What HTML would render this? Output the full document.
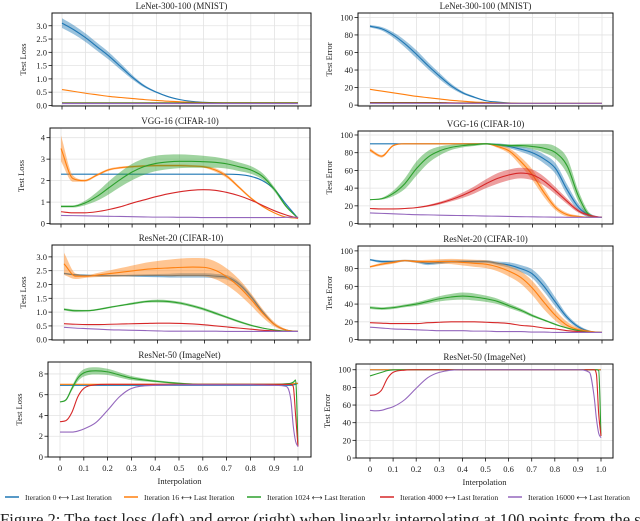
<!DOCTYPE html>
<html><head><meta charset="utf-8"><style>
body{margin:0;background:#fff;width:640px;height:521px;overflow:hidden;font-family:"Liberation Serif",serif}
svg{display:block}
text{font-family:"Liberation Serif",serif;fill:#222}
</style></head><body>
<svg id="fig" width="640" height="521" viewBox="0 0 640 521" xmlns="http://www.w3.org/2000/svg"></svg>
<script>
const G=[0,0.05,0.1,0.15,0.2,0.25,0.3,0.35,0.4,0.45,0.5,0.55,0.6,0.65,0.7,0.75,0.8,0.85,0.9,0.95,1.0];
const B=[0,0.025,0.05,0.075,0.1,0.15,0.2,0.25,0.3,0.4,0.5,0.6,0.7,0.8,0.9,0.95,0.97,0.98,0.99,1.0];
const xTickLabels=["0","0.1","0.2","0.3","0.4","0.5","0.6","0.7","0.8","0.9","1.0"];
const seriesNames=["Iteration 0 ⟷ Last Iteration","Iteration 16 ⟷ Last Iteration","Iteration 1024 ⟷ Last Iteration","Iteration 4000 ⟷ Last Iteration","Iteration 16000 ⟷ Last Iteration"];
// LeNet loss
const l1Blue=[3.1,2.85,2.55,2.2,1.85,1.45,1.05,0.72,0.5,0.33,0.22,0.15,0.12,0.1,0.09,0.08,0.08,0.08,0.08,0.08,0.08];
const l1BlueBand=[0.18,0.17,0.16,0.15,0.14,0.12,0.08,0.05,0.03,0.02,0.01,0,0,0,0,0,0,0,0,0,0];
const l1Orange=[0.6,0.53,0.46,0.4,0.34,0.3,0.26,0.22,0.19,0.16,0.14,0.12,0.11,0.1,0.1,0.1,0.1,0.1,0.1,0.1,0.1];
const l1Green=[0.1,0.1,0.1,0.1,0.1,0.1,0.1,0.1,0.1,0.1,0.1,0.1,0.1,0.1,0.1,0.1,0.1,0.1,0.1,0.1,0.1];
const l1Red=[0.08,0.08,0.08,0.08,0.08,0.08,0.08,0.08,0.08,0.08,0.08,0.08,0.08,0.08,0.08,0.08,0.08,0.08,0.08,0.08,0.08];
const l1Purple=[0.07,0.07,0.07,0.07,0.07,0.07,0.07,0.07,0.07,0.07,0.07,0.07,0.07,0.07,0.07,0.07,0.07,0.07,0.07,0.07,0.07];
// LeNet error
const r1Blue=[90,87,80,70,58,45,33,22,14,9,5,3.5,2.5,2,2,2,2,2,2,2,2];
const r1BlueBand=[1.5,2,3,4,4.5,4,3.5,2.5,1.5,1,0.5,0,0,0,0,0,0,0,0,0,0];
const r1Orange=[18,16,14,12,10,8.5,7,5.5,4.5,3.5,3,2.5,2.2,2,2,2,2,2,2,2,2];
const r1Green=[3,3,3,3,3,3,3,2.5,2.5,2.5,2.5,2,2,2,2,2,2,2,2,2,2];
const r1Red=[2.5,2.5,2.5,2.5,2.5,2.5,2.5,2.5,2.2,2.2,2.2,2,2,2,2,2,2,2,2,2,2];
const r1Purple=[2,2,2,2,2,2,2,2,2,2,2,2,2,2,2,2,2,2,2,2,2];
// VGG loss
const l2Blue=[2.3,2.3,2.3,2.3,2.3,2.3,2.3,2.3,2.3,2.3,2.3,2.3,2.3,2.3,2.3,2.28,2.2,2.0,1.6,0.9,0.25];
const l2Orange=[3.5,2.1,2.0,2.25,2.5,2.6,2.65,2.68,2.7,2.7,2.7,2.68,2.65,2.5,2.2,1.7,1.2,0.8,0.5,0.3,0.25];
const l2OrangeBand=[0.6,0.15,0.05,0.05,0.05,0.05,0.05,0.05,0.05,0.05,0.05,0.05,0.05,0.08,0.08,0.06,0.05,0.03,0.02,0.02,0];
const l2Green=[0.8,0.8,0.95,1.25,1.65,2.05,2.4,2.65,2.8,2.87,2.9,2.9,2.88,2.85,2.78,2.65,2.5,2.2,1.6,0.8,0.25];
const l2GreenBand=[0.05,0.05,0.1,0.2,0.3,0.35,0.38,0.38,0.36,0.34,0.32,0.3,0.28,0.25,0.22,0.2,0.18,0.15,0.1,0.05,0];
const l2Red=[0.55,0.5,0.5,0.55,0.65,0.78,0.95,1.1,1.25,1.38,1.48,1.55,1.58,1.55,1.45,1.3,1.1,0.85,0.6,0.4,0.25];
const l2Purple=[0.38,0.37,0.36,0.35,0.34,0.33,0.32,0.31,0.3,0.3,0.29,0.29,0.28,0.28,0.28,0.28,0.28,0.28,0.28,0.29,0.3];
// VGG error
const r2Blue=[90,90,90,90,90,90,90,90,90,90,90,89,87,84,80,73,62,38,18,9,7];
const r2BlueBand=[0,0,0,0,0,0,0,0,0,0,0.5,1.5,2,3,4,5,6,6,4,2,0];
const r2Orange=[83,76,88,90,90,90,90,90,90,90,90,87,82,70,55,35,18,10,8,7,7];
const r2OrangeBand=[2,1.5,1,0.5,0.5,0.5,0.5,0.5,0.5,0.5,0.5,1.5,3,5,6,5,3,2,1,0.5,0];
const r2Green=[27,28,34,45,62,75,82,86,88,89,90,89,88,88,87,85,80,65,30,9,7];
const r2GreenBand=[0.5,1,3,6,8,7,5,3,2,1.5,1,1,1.5,2,3,5,7,9,6,2,0];
const r2Red=[17,16.5,16.5,17,18,20,23,27,32,38,45,51,55,57,55,48,37,25,14,9,7];
const r2RedBand=[0.5,0.5,0.5,0.5,0.5,1,1.5,2,3,4,5,6,6,6,6,5,4,3,2,1,0];
const r2Purple=[12,11.5,11,10.5,10,9.8,9.5,9.2,9,8.8,8.5,8.3,8,7.8,7.6,7.4,7.2,7.1,7,7,7];
// ResNet-20 loss
const l3Blue=[2.4,2.35,2.33,2.32,2.32,2.32,2.32,2.32,2.32,2.32,2.33,2.33,2.33,2.3,2.25,2.0,1.55,1.0,0.55,0.35,0.3];
const l3BlueBand=[0.03,0.03,0.03,0.03,0.03,0.03,0.04,0.05,0.06,0.07,0.08,0.08,0.08,0.08,0.08,0.08,0.07,0.05,0.03,0.02,0];
const l3Orange=[2.75,2.3,2.3,2.35,2.4,2.45,2.5,2.55,2.58,2.6,2.62,2.63,2.62,2.5,2.25,1.9,1.45,0.95,0.55,0.35,0.3];
const l3OrangeBand=[0.4,0.1,0.05,0.08,0.12,0.16,0.2,0.24,0.27,0.3,0.32,0.33,0.33,0.32,0.3,0.27,0.22,0.15,0.08,0.03,0];
const l3Green=[1.1,1.05,1.05,1.1,1.18,1.25,1.32,1.38,1.4,1.38,1.32,1.22,1.1,0.95,0.8,0.65,0.52,0.42,0.35,0.31,0.3];
const l3GreenBand=[0.04,0.04,0.03,0.03,0.03,0.03,0.04,0.04,0.05,0.05,0.05,0.05,0.05,0.05,0.04,0.04,0.03,0.02,0.01,0,0];
const l3Red=[0.58,0.56,0.55,0.55,0.56,0.57,0.58,0.59,0.6,0.6,0.59,0.57,0.54,0.5,0.46,0.42,0.38,0.34,0.32,0.3,0.3];
const l3Purple=[0.45,0.42,0.4,0.38,0.36,0.35,0.34,0.33,0.32,0.31,0.31,0.31,0.31,0.31,0.3,0.3,0.3,0.3,0.3,0.3,0.3];
// ResNet-20 error
const r3Blue=[90,88,88,89,88,86,87,88,88,88,88,86,84,80,74,60,42,25,14,9,8];
const r3BlueBand=[1,1.5,1.5,1,1.5,2,2,1.5,1.5,1.5,1.5,2,3,4,5,6,5,3,2,1,0];
const r3Orange=[82,85,87,89,88,88,88,88,87,86,85,82,77,70,58,42,27,16,11,9,8];
const r3OrangeBand=[1,1.5,1.5,1,1.5,2,2.5,3,3.5,4,4.5,5,6,7,8,8,6,4,2,1,0];
const r3Green=[36,35,36,38,40,43,46,48,49,48,46,43,38,33,27,22,17,13,10,8,8];
const r3GreenBand=[1.5,1.5,1.5,1.5,2,2.5,3,3.5,4,4,3.5,3,2.5,2,1.5,1,1,0.5,0.5,0,0];
const r3Red=[19,18.5,18,18,18,19,19.5,20,20,20,19.5,19,18,16,15,13,12,10,9,8,8];
const r3Purple=[14,13,12,11.5,11,10.5,10,10,10,9.5,9.5,9,9,9,8.5,8.5,8,8,8,8,8];
// ResNet-50 loss (grid B)
const l4Blue=[6.9,6.9,6.9,6.9,6.9,6.9,6.9,6.9,6.9,6.9,6.9,6.9,6.9,6.9,6.9,6.9,6.9,6.95,7.0,7.1];
const l4Orange=[7.0,7.0,7.0,7.0,7.0,7.0,7.0,7.0,7.0,7.0,7.0,7.0,7.0,7.0,7.0,7.0,7.0,7.05,7.1,7.1];
const l4Green=[5.3,5.5,6.6,7.6,8.1,8.3,8.2,7.9,7.6,7.3,7.1,7.0,7.0,7.0,7.0,7.05,7.1,7.2,7.4,1.2];
const l4GreenBand=[0.05,0.1,0.2,0.3,0.35,0.35,0.3,0.25,0.2,0.1,0.08,0.05,0.05,0.03,0.03,0.05,0.05,0.08,0.1,0];
const l4Red=[3.4,3.5,4.3,5.8,6.6,6.95,7.0,7.0,7.0,7.0,7.0,7.0,7.0,7.0,7.0,7.0,7.0,6.8,4.0,1.0];
const l4Purple=[2.4,2.4,2.4,2.5,2.7,3.3,4.5,5.8,6.6,6.9,6.95,6.95,6.95,6.95,6.9,6.8,5.5,3.0,1.5,1.0];
// ResNet-50 error (grid B)
const r4Blue=[99.9,99.9,99.9,99.9,99.9,99.9,99.9,99.9,99.9,99.9,99.9,99.9,99.9,99.9,99.9,99.9,99.9,99.9,99.9,99.9];
const r4Orange=[100,100,100,100,100,100,100,100,100,100,100,100,100,100,100,100,100,100,100,100];
const r4Green=[93,95,97,99,99.8,100,100,100,100,100,100,100,100,100,100,100,100,100,99,25];
const r4Red=[71,72,77,90,97,99.5,100,100,100,100,100,100,100,100,100,100,100,95,50,25];
const r4Purple=[54,53.5,54,56,58,66,79,91,97,100,100,100,100,100,100,97,70,45,28,23];

const C=["#1f77b4","#ff7f0e","#2ca02c","#d62728","#9467bd"];
const NS="http://www.w3.org/2000/svg";
const svg=document.getElementById('fig');
function mk(tag,attrs,parent){const e=document.createElementNS(NS,tag);for(const k in attrs)e.setAttribute(k,attrs[k]);(parent||svg).appendChild(e);return e;}

function monoPath(px,py){
  const n=px.length;if(n<2)return '';
  const d=[],m=[];
  for(let i=0;i<n-1;i++)d.push((py[i+1]-py[i])/(px[i+1]-px[i]));
  m[0]=d[0];m[n-1]=d[n-2];
  for(let i=1;i<n-1;i++){m[i]=(d[i-1]*d[i]<=0)?0:(d[i-1]+d[i])/2;}
  for(let i=0;i<n-1;i++){if(d[i]===0){m[i]=0;m[i+1]=0;continue;}const a=m[i]/d[i],b=m[i+1]/d[i],s=a*a+b*b;if(s>9){const t=3/Math.sqrt(s);m[i]=t*a*d[i];m[i+1]=t*b*d[i];}}
  let p='M'+px[0].toFixed(2)+','+py[0].toFixed(2);
  for(let i=0;i<n-1;i++){const h=px[i+1]-px[i];p+='C'+(px[i]+h/3).toFixed(2)+','+(py[i]+m[i]*h/3).toFixed(2)+' '+(px[i+1]-h/3).toFixed(2)+','+(py[i+1]-m[i+1]*h/3).toFixed(2)+' '+px[i+1].toFixed(2)+','+py[i+1].toFixed(2);}
  return p;
}

function panel(o){
  const g=mk('g',{});
  
  
  const sx=v=>o.x0+(o.x1-o.x0)*v;
  const sy=v=>o.b-(v-o.ylim[0])/(o.ylim[1]-o.ylim[0])*(o.b-o.t);
  for(let i=0;i<=10;i++){const x=sx(i/10);const gl=mk('line',{x1:x,x2:x,y1:o.t,y2:o.b,stroke:'#e3e3e3','stroke-width':0.8},g);}
  o.yticks.forEach(v=>{const y=sy(v);const gl=mk('line',{x1:o.l,x2:o.r,y1:y,y2:y,stroke:'#e3e3e3','stroke-width':0.8},g);});
  const clipId='c'+o.name;
  const cp=mk('clipPath',{id:clipId},g);mk('rect',{x:o.l,y:o.t,width:o.r-o.l,height:o.b-o.t},cp);
  const plot=mk('g',{'clip-path':'url(#'+clipId+')'},g);
  o.series.forEach((s,k)=>{
    if(!s)return;
    const xs=o.grid.map(sx),ys=s.y.map(sy);
    if(s.band){
      const up=s.y.map((v,i)=>sy(v+s.band[i])),lo=s.y.map((v,i)=>sy(v-s.band[i]));
      const top=monoPath(xs,up);
      const rx=xs.slice().reverse(),rl=lo.slice().reverse();
      const bot=monoPath(rx,rl).replace(/^M/,'L');
      const bp=mk('path',{d:top+bot+'Z',fill:C[k],'fill-opacity':0.45,stroke:'none'},plot);
      
      
    }
    const ln=mk('path',{d:monoPath(xs,ys),fill:'none',stroke:C[k],'stroke-width':1.1},plot);
    
    
  });
  const fr=mk('rect',{x:o.l,y:o.t,width:o.r-o.l,height:o.b-o.t,fill:'none',stroke:'#111','stroke-width':1},g);
  
  for(let i=0;i<=10;i++){const x=sx(i/10);mk('line',{x1:x,x2:x,y1:o.b,y2:o.b+3.5,stroke:'#111','stroke-width':0.8},g);
    if(o.xlabels){const t=mk('text',{x:x,y:o.b+14,'font-size':8.5,'text-anchor':'middle'},g);t.textContent=xTickLabels[i];}}
  o.yticks.forEach(v=>{const y=sy(v);mk('line',{x1:o.l-3.5,x2:o.l,y1:y,y2:y,stroke:'#111','stroke-width':0.8},g);
    const t=mk('text',{x:o.l-5,y:y+3,'font-size':8.5,'text-anchor':'end'},g);t.textContent=o.fmt(v);});
  const ti=mk('text',{x:(o.l+o.r)/2,y:o.t-4,'font-size':9,'text-anchor':'middle'},g);ti.textContent=o.title;
  
  const ya=mk('text',{x:0,y:0,'font-size':8.5,'text-anchor':'middle',transform:'translate('+(o.l-26)+','+((o.t+o.b)/2)+') rotate(-90)'},g);ya.textContent=o.ytitle;
  
  if(o.xlabels){const xa=mk('text',{x:(o.l+o.r)/2,y:o.b+27,'font-size':8.5,'text-anchor':'middle'},g);xa.textContent='Interpolation';}
}
const f1=v=>v.toFixed(1), f0=v=>String(v);
const lossT=[0,0.5,1,1.5,2,2.5,3], errT=[0,20,40,60,80,100];
const ids=['iter0','iter16','iter1024','iter4000','iter16000'];
const S=(arrs,bands)=>arrs.map((a,i)=>({y:a,band:bands[i]||null,id:ids[i]}));
panel({name:'lenet-loss',title:'LeNet-300-100 (MNIST)',ytitle:'Test Loss',l:52,r:311,t:13,b:106,x0:62,x1:298,ylim:[-0.02,3.48],yticks:lossT,fmt:f1,grid:G,
 series:S([l1Blue,l1Orange,l1Green,l1Red,l1Purple],[l1BlueBand])});
panel({name:'lenet-error',title:'LeNet-300-100 (MNIST)',ytitle:'Test Error',l:358,r:613,t:13,b:106,x0:370,x1:602,ylim:[-1,105],yticks:errT,fmt:f0,grid:G,
 series:S([r1Blue,r1Orange,r1Green,r1Red,r1Purple],[r1BlueBand])});
panel({name:'vgg-loss',title:'VGG-16 (CIFAR-10)',ytitle:'Test Loss',l:50,r:310,t:128,b:224,x0:61,x1:298,ylim:[-0.02,4.45],yticks:[0,1,2,3,4],fmt:f0,grid:G,
 series:S([l2Blue,l2Orange,l2Green,l2Red,l2Purple],[null,l2OrangeBand,l2GreenBand])});
panel({name:'vgg-error',title:'VGG-16 (CIFAR-10)',ytitle:'Test Error',l:358,r:613,t:131,b:224,x0:370,x1:602,ylim:[-0.5,104.5],yticks:errT,fmt:f0,grid:G,
 series:S([r2Blue,r2Orange,r2Green,r2Red,r2Purple],[r2BlueBand,r2OrangeBand,r2GreenBand,r2RedBand])});
panel({name:'resnet20-loss',title:'ResNet-20 (CIFAR-10)',ytitle:'Test Loss',l:52,r:310,t:245,b:340,x0:64,x1:298,ylim:[-0.01,3.43],yticks:lossT,fmt:f1,grid:G,
 series:S([l3Blue,l3Orange,l3Green,l3Red,l3Purple],[l3BlueBand,l3OrangeBand,l3GreenBand])});
panel({name:'resnet20-error',title:'ResNet-20 (CIFAR-10)',ytitle:'Test Error',l:358,r:613,t:246,b:340,x0:370,x1:602,ylim:[-0.5,105.5],yticks:errT,fmt:f0,grid:G,
 series:S([r3Blue,r3Orange,r3Green,r3Red,r3Purple],[r3BlueBand,r3OrangeBand,r3GreenBand])});
panel({name:'resnet50-loss',title:'ResNet-50 (ImageNet)',ytitle:'Test Loss',l:48,r:311,t:362,b:457,x0:60,x1:298,ylim:[0,9.15],yticks:[0,2,4,6,8],fmt:f0,grid:B,xlabels:true,
 series:S([l4Blue,l4Orange,l4Green,l4Red,l4Purple],[null,null,l4GreenBand])});
panel({name:'resnet50-error',title:'ResNet-50 (ImageNet)',ytitle:'Test Error',l:356,r:613,t:364,b:458,x0:370,x1:601,ylim:[0,106.5],yticks:errT,fmt:f0,grid:B,xlabels:true,
 series:S([r4Blue,r4Orange,r4Green,r4Red,r4Purple],[])});
const legX=[5,124,247,380,508];
const lg=mk('g',{});


seriesNames.forEach((n,i)=>{
  const e=mk('g',{},lg);
  
  
  mk('line',{x1:legX[i],x2:legX[i]+14,y1:497,y2:497,stroke:C[i],'stroke-width':1.5},e);
  const t=mk('text',{x:legX[i]+20,y:500,'font-size':7.6},e);t.textContent=n;
});
const cap=mk('text',{x:0,y:525,'font-size':16.6},svg);
cap.textContent='Figure 2: The test loss (left) and error (right) when linearly interpolating at 100 points from the state';


</script>
</body></html>
